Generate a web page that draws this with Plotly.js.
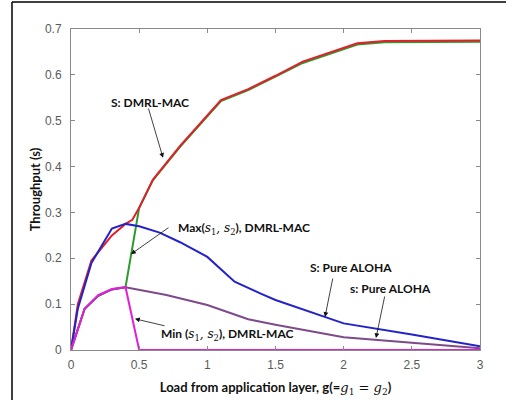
<!DOCTYPE html>
<html><head><meta charset="utf-8">
<script src="https://cdn.plot.ly/plotly-3.0.1.min.js"></script>
<style>html,body{margin:0;padding:0;background:#fff}#plot{width:506px;height:400px}</style>
</head><body><div id="plot"></div>
<script>
// Load g
const gGreen = [0, 0.1, 0.2, 0.3, 0.4, 0.5, 0.6, 0.8, 1.1, 1.3, 1.5, 1.7, 2.1, 2.3, 3.0];
const sGreen = [0, 0.09, 0.118, 0.132, 0.137, 0.31, 0.37, 0.443, 0.543, 0.567, 0.596, 0.626, 0.666, 0.671, 0.672];

const gRed = [0, 0.05, 0.15, 0.3, 0.4, 0.45, 0.5, 0.6, 0.8, 1.1, 1.3, 1.5, 1.7, 2.1, 2.3, 3.0];
const sRed = [0, 0.1, 0.195, 0.25, 0.275, 0.284, 0.31, 0.371, 0.445, 0.545, 0.569, 0.598, 0.629, 0.669, 0.674, 0.675];

const gBlue = [0, 0.05, 0.15, 0.3, 0.4, 0.5, 0.65, 0.8, 1.0, 1.2, 1.4, 1.5, 2.0, 2.5, 3.0];
const sBlue = [0, 0.09, 0.19, 0.265, 0.275, 0.27, 0.256, 0.235, 0.203, 0.149, 0.122, 0.109, 0.058, 0.034, 0.008];

const gPurple = [0, 0.1, 0.2, 0.3, 0.4, 0.55, 0.7, 1.0, 1.3, 1.5, 2.0, 2.5, 3.0];
const sPurple = [0, 0.09, 0.118, 0.132, 0.137, 0.129, 0.12, 0.098, 0.067, 0.055, 0.028, 0.016, 0.004];

const gMag = [0, 0.1, 0.2, 0.3, 0.4, 0.5, 3.0];
const sMag = [0, 0.09, 0.12, 0.133, 0.137, 0, 0];

const xTicks = [0, 0.5, 1, 1.5, 2, 2.5, 3];
const yTicks = [0, 0.1, 0.2, 0.3, 0.4, 0.5, 0.6, 0.7];

const lw = 2;
const traces = [
  {x: gGreen, y: sGreen, mode: 'lines', line: {color: '#2e9a2e', width: lw}},
  {x: gRed, y: sRed, mode: 'lines', line: {color: '#e0202a', width: lw}},
  {x: gBlue, y: sBlue, mode: 'lines', line: {color: '#2323c8', width: lw}},
  {x: gPurple, y: sPurple, mode: 'lines', line: {color: '#7d4a8a', width: lw}},
  {x: gMag, y: sMag, mode: 'lines', line: {color: '#e020d8', width: lw}}
];

const bf = {family: 'Lato, "Open Sans", sans-serif', size: 12, color: '#111'};
const tf = {family: 'Lato, "Open Sans", sans-serif', size: 13, color: '#111'};
const sv = (t) => '<span style="font-family:\'DejaVu Serif\';font-style:italic;font-weight:normal">' + t + '</span>';
const sd = (t) => '<sub><span style="font-family:\'DejaVu Serif\';font-weight:normal">' + t + '</span></sub>';
function txt(x, y, text, xanchor) {
  return {x: x, y: y, xref: 'x', yref: 'y', text: '<b>' + text + '</b>', showarrow: false,
    font: bf, xanchor: xanchor || 'center', yanchor: 'middle'};
}
function arr(x0, y0, x1, y1) {
  return {x: x1, y: y1, ax: x0, ay: y0, xref: 'x', yref: 'y', axref: 'x', ayref: 'y',
    text: '', showarrow: true, arrowhead: 2, arrowsize: 1.2, arrowwidth: 0.8, arrowcolor: '#111', standoff: 0, startstandoff: 0};
}

const annotations = [
  txt(0.58, 0.539, 'S: DMRL-MAC'),
  arr(0.565, 0.53, 0.675, 0.419),
  txt(0.77, 0.266, 'Max(' + sv('s') + sd('1') + sv(', s') + sd('2') + '), DMRL-MAC', 'left'),
  arr(0.726, 0.269, 0.44, 0.209),
  txt(0.645, 0.034, 'Min (' + sv('s') + sd('1') + sv(', s') + sd('2') + '), DMRL-MAC', 'left'),
  arr(0.697, 0.052, 0.469, 0.068),
  txt(2.054, 0.181, 'S: Pure ALOHA'),
  arr(1.922, 0.159, 1.863, 0.072),
  txt(2.347, 0.135, 's: Pure ALOHA'),
  arr(2.303, 0.12, 2.237, 0.026)
];

const axBase = {
  showgrid: false, zeroline: false, showline: true, linecolor: '#8a8a8a', linewidth: 1,
  mirror: 'ticks', ticks: 'inside', ticklen: 4, tickcolor: '#8a8a8a',
  tickfont: {family: '"Liberation Sans", Arial, sans-serif', size: 12, color: '#5a5a5a'}
};

const layout = {
  width: 506, height: 400,
  margin: {l: 71, r: 26, t: 29, b: 50},
  paper_bgcolor: '#fff', plot_bgcolor: '#fff',
  showlegend: false,
  xaxis: Object.assign({}, axBase, {
    range: [0, 3], tickvals: xTicks, ticktext: xTicks.map(String), ticklabelstandoff: 4,
    title: {text: '<b>Load from application layer, g(=</b>' + sv('g') + sd('1') + sv(' = g') + sd('2') + '<b>)</b>',
      font: tf, standoff: 11}
  }),
  yaxis: Object.assign({}, axBase, {
    range: [0, 0.7], tickvals: yTicks, ticktext: yTicks.map(String), ticklabelstandoff: 6,
    title: {text: '<b>Throughput (s)</b>', font: tf, standoff: 1}
  }),
  annotations: annotations,
  shapes: [
    {type: 'line', xref: 'paper', yref: 'paper', x0: (12 - 71) / 409, x1: (12 - 71) / 409, y0: -0.2, y1: (350 - 2) / 321, line: {color: '#000', width: 1.5}},
    {type: 'line', xref: 'paper', yref: 'paper', x0: (12 - 71) / 409, x1: 1.2, y0: (350 - 2) / 321, y1: (350 - 2) / 321, line: {color: '#000', width: 1.5}}
  ]
};

Plotly.newPlot('plot', traces, layout, {staticPlot: true, displayModeBar: false});
</script></body></html>
